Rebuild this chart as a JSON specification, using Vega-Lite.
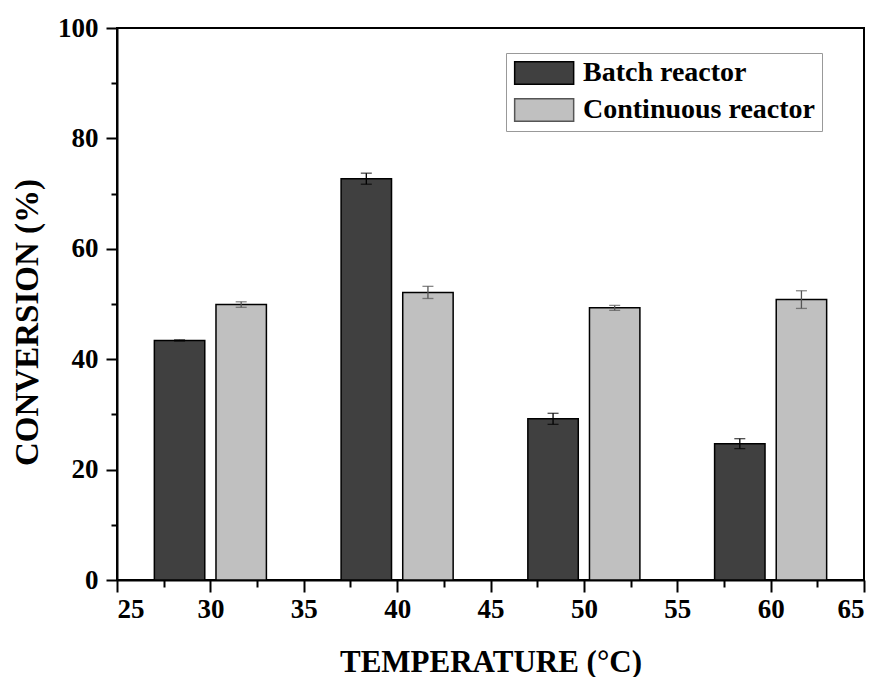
{
  "$schema": "https://vega.github.io/schema/vega-lite/v6.json",
  "width": 747,
  "height": 552,
  "autosize": {"type": "none"},
  "padding": {"left": 117, "top": 28, "right": 18, "bottom": 97},
  "background": "white",
  "config": {
    "view": {"stroke": "black", "strokeWidth": 2},
    "axis": {
      "domainColor": "black",
      "domainWidth": 2,
      "tickColor": "black",
      "tickWidth": 2,
      "grid": false,
      "labelFont": "Liberation Serif",
      "labelFontWeight": "bold",
      "labelFontSize": 27,
      "labelColor": "black",
      "titleFont": "Liberation Serif",
      "titleFontWeight": "bold",
      "titleColor": "black"
    }
  },
  "data": {
    "values": [
      {"reactor": "Batch reactor", "x0": 27, "x1": 29.7, "xc": 28.35, "conv": 43.4, "lo": 43.3, "hi": 43.5},
      {"reactor": "Batch reactor", "x0": 37, "x1": 39.7, "xc": 38.35, "conv": 72.7, "lo": 71.7, "hi": 73.7},
      {"reactor": "Batch reactor", "x0": 47, "x1": 49.7, "xc": 48.35, "conv": 29.2, "lo": 28.2, "hi": 30.2},
      {"reactor": "Batch reactor", "x0": 57, "x1": 59.7, "xc": 58.35, "conv": 24.7, "lo": 23.8, "hi": 25.6},
      {"reactor": "Continuous reactor", "x0": 30.3, "x1": 33, "xc": 31.65, "conv": 49.9, "lo": 49.4, "hi": 50.4},
      {"reactor": "Continuous reactor", "x0": 40.3, "x1": 43, "xc": 41.65, "conv": 52.1, "lo": 51.0, "hi": 53.2},
      {"reactor": "Continuous reactor", "x0": 50.3, "x1": 53, "xc": 51.65, "conv": 49.3, "lo": 48.85, "hi": 49.75},
      {"reactor": "Continuous reactor", "x0": 60.3, "x1": 63, "xc": 61.65, "conv": 50.8, "lo": 49.2, "hi": 52.4}
    ]
  },
  "resolve": {"axis": {"x": "independent", "y": "independent"}},
  "layer": [
    {
      "mark": {"type": "bar", "stroke": "black", "strokeWidth": 1.5},
      "encoding": {
        "x": {
          "field": "x0", "type": "quantitative",
          "scale": {"domain": [25, 65], "nice": false, "zero": false},
          "axis": {"orient": "bottom", "values": [25, 30, 35, 40, 45, 50, 55, 60, 65], "tickSize": 12, "labelPadding": 4,
                   "title": "TEMPERATURE (°C)", "titleFontSize": 31, "titleBaseline": "alphabetic", "titleY": 91}
        },
        "x2": {"field": "x1"},
        "y": {
          "field": "conv", "type": "quantitative",
          "scale": {"domain": [0, 100], "nice": false},
          "axis": {"orient": "left", "values": [0, 20, 40, 60, 80, 100], "tickSize": 11, "labelPadding": 8,
                   "title": "CONVERSION (%)", "titleFontSize": 33, "titleBaseline": "alphabetic", "titleX": -80, "titleY": 294}
        },
        "y2": {"datum": 0},
        "fill": {
          "field": "reactor", "type": "nominal",
          "scale": {"domain": ["Batch reactor", "Continuous reactor"], "range": ["#404040", "#c0c0c0"]},
          "legend": {
            "orient": "none", "legendX": 389, "legendY": 25, "title": null,
            "symbolType": "M-1,-1H4.2V1H-1Z", "symbolSize": 515,
            "symbolStrokeColor": "black", "symbolStrokeWidth": 1.5,
            "labelFont": "Liberation Serif", "labelFontWeight": "bold", "labelFontSize": 28, "labelColor": "black",
            "labelLimit": 400, "labelOffset": 43, "strokeColor": "#999", "padding": 6, "rowPadding": 7, "fillColor": "white"
          }
        }
      }
    },
    {
      "mark": {"type": "rule", "strokeWidth": 1.3},
      "encoding": {
        "x": {"field": "xc", "type": "quantitative",
              "axis": {"orient": "bottom", "values": [27.5, 32.5, 37.5, 42.5, 47.5, 52.5, 57.5, 62.5], "labels": false, "title": null, "tickSize": 7, "domain": false}},
        "y": {"field": "lo", "type": "quantitative",
              "axis": {"orient": "left", "values": [10, 30, 50, 70, 90], "labels": false, "title": null, "tickSize": 6, "domain": false}},
        "y2": {"field": "hi"},
        "color": {"field": "reactor", "type": "nominal", "scale": {"domain": ["Batch reactor", "Continuous reactor"], "range": ["#000000", "#555555"]}, "legend": null}
      }
    },
    {
      "mark": {"type": "tick", "orient": "horizontal", "size": 11, "thickness": 1.3},
      "encoding": {
        "x": {"field": "xc", "type": "quantitative", "axis": null},
        "y": {"field": "lo", "type": "quantitative", "axis": null},
        "color": {"field": "reactor", "type": "nominal", "legend": null}
      }
    },
    {
      "mark": {"type": "tick", "orient": "horizontal", "size": 11, "thickness": 1.3},
      "encoding": {
        "x": {"field": "xc", "type": "quantitative", "axis": null},
        "y": {"field": "hi", "type": "quantitative", "axis": null},
        "color": {"field": "reactor", "type": "nominal", "legend": null}
      }
    }
  ]
}
